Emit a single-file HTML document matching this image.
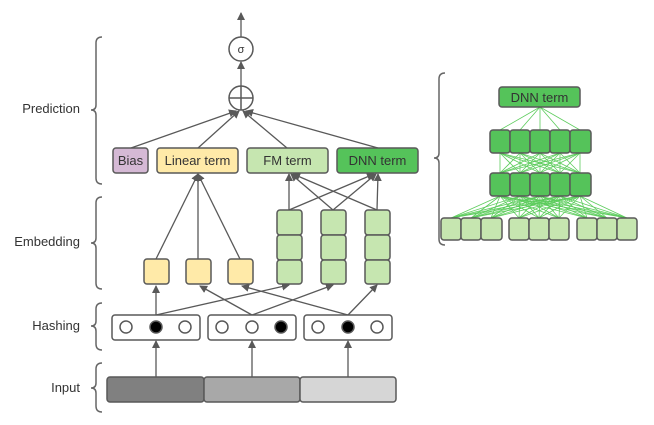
<!DOCTYPE html>
<html><head><meta charset="utf-8"><style>
html,body{margin:0;padding:0;background:#fff;}
svg{display:block;font-family:"Liberation Sans",sans-serif;}
</style></head><body>
<svg width="654" height="425" viewBox="0 0 654 425" xmlns="http://www.w3.org/2000/svg">
<defs>
<marker id="a" markerWidth="8" markerHeight="8" refX="7" refY="4" orient="auto" markerUnits="userSpaceOnUse">
<path d="M0,0 L8,4 L0,8 z" fill="#595959"/></marker>
</defs>
<g fill="none" stroke="#666" stroke-width="1.5">
<path d="M102,37 Q96,37 96,43 L96,105 Q96,110 91,110 Q96,110 96,115 L96,178 Q96,184 102,184"/>
<path d="M102,197 Q96,197 96,203 L96,238 Q96,243 91,243 Q96,243 96,248 L96,283 Q96,289 102,289"/>
<path d="M102,303 Q96,303 96,309 L96,321 Q96,326 91,326 Q96,326 96,331 L96,344 Q96,350 102,350"/>
<path d="M102,363 Q96,363 96,369 L96,383 Q96,388 91,388 Q96,388 96,393 L96,406 Q96,412 102,412"/>
<path d="M445,73 Q439,73 439,79 L439,153 Q439,158 434,158 Q439,158 439,163 L439,239 Q439,245 445,245"/>
</g>
<g font-size="13" fill="#333" text-anchor="end">
<text x="80" y="113">Prediction</text>
<text x="80" y="246">Embedding</text>
<text x="80" y="330">Hashing</text>
<text x="80" y="392">Input</text>
</g>
<!-- arrows -->
<g stroke="#595959" stroke-width="1.3" fill="none" marker-end="url(#a)">
<line x1="241" y1="37" x2="241" y2="13"/>
<line x1="241" y1="86" x2="241" y2="62"/>
<line x1="131" y1="148" x2="236" y2="111"/>
<line x1="198" y1="148" x2="239" y2="111"/>
<line x1="287" y1="148" x2="243" y2="111"/>
<line x1="378" y1="148" x2="246" y2="111"/>
<line x1="156" y1="259" x2="198" y2="174"/>
<line x1="198" y1="259" x2="198" y2="174"/>
<line x1="240" y1="259" x2="198" y2="174"/>
<line x1="289" y1="210" x2="289" y2="174"/>
<line x1="333" y1="210" x2="291" y2="174"/>
<line x1="377" y1="210" x2="293" y2="174"/>
<line x1="289" y1="210" x2="374" y2="174"/>
<line x1="333" y1="210" x2="376" y2="174"/>
<line x1="377" y1="210" x2="378" y2="174"/>
<line x1="156" y1="315" x2="156" y2="286"/>
<line x1="156" y1="315" x2="289" y2="285"/>
<line x1="252" y1="315" x2="200" y2="286"/>
<line x1="252" y1="315" x2="333" y2="285"/>
<line x1="348" y1="315" x2="242" y2="286"/>
<line x1="348" y1="315" x2="377" y2="285"/>
<line x1="156" y1="377" x2="156" y2="341"/>
<line x1="252" y1="377" x2="252" y2="341"/>
<line x1="348" y1="377" x2="348" y2="341"/>
</g>
<!-- circles -->
<g stroke="#595959" stroke-width="1.5" fill="#fff">
<circle cx="241" cy="49" r="12"/>
<circle cx="241" cy="98" r="12"/>
</g>
<path d="M229,98 H253 M241,86 V110" stroke="#595959" stroke-width="1.5"/>
<text x="241" y="53" font-size="11" text-anchor="middle" fill="#333">σ</text>
<!-- term boxes -->
<g stroke="#595959" stroke-width="1.5">
<rect x="113" y="148" width="35" height="25" rx="3" fill="#d5b9d5"/>
<rect x="157" y="148" width="81" height="25" rx="3" fill="#ffeaa8"/>
<rect x="247" y="148" width="81" height="25" rx="3" fill="#c6e6b0"/>
<rect x="337" y="148" width="81" height="25" rx="3" fill="#55c35a"/>
</g>
<g font-size="13" fill="#333" text-anchor="middle">
<text x="130.5" y="165">Bias</text>
<text x="197.5" y="165">Linear term</text>
<text x="287.5" y="165">FM term</text>
<text x="377.5" y="165">DNN term</text>
</g>
<!-- embedding -->
<g stroke="#595959" stroke-width="1.5">
<rect x="144" y="259" width="25" height="25" rx="3" fill="#ffeaa8"/>
<rect x="186" y="259" width="25" height="25" rx="3" fill="#ffeaa8"/>
<rect x="228" y="259" width="25" height="25" rx="3" fill="#ffeaa8"/>
<g fill="#c6e6b0">
<rect x="277" y="210" width="25" height="25" rx="3"/><rect x="277" y="235" width="25" height="25" rx="3"/><rect x="277" y="260" width="25" height="24" rx="3"/>
<rect x="321" y="210" width="25" height="25" rx="3"/><rect x="321" y="235" width="25" height="25" rx="3"/><rect x="321" y="260" width="25" height="24" rx="3"/>
<rect x="365" y="210" width="25" height="25" rx="3"/><rect x="365" y="235" width="25" height="25" rx="3"/><rect x="365" y="260" width="25" height="24" rx="3"/>
</g>
<!-- hashing -->
<g fill="#fff">
<rect x="112" y="315" width="88" height="25" rx="3"/>
<rect x="208" y="315" width="88" height="25" rx="3"/>
<rect x="304" y="315" width="88" height="25" rx="3"/>
<circle cx="126" cy="327" r="6"/><circle cx="185" cy="327" r="6"/>
<circle cx="222" cy="327" r="6"/><circle cx="252" cy="327" r="6"/>
<circle cx="318" cy="327" r="6"/><circle cx="377" cy="327" r="6"/>
</g>
<g fill="#000">
<circle cx="156" cy="327" r="6"/><circle cx="281" cy="327" r="6"/><circle cx="348" cy="327" r="6"/>
</g>
<!-- input -->
<rect x="107" y="377" width="97" height="25" rx="3" fill="#808080"/>
<rect x="204" y="377" width="96" height="25" rx="3" fill="#a8a8a8"/>
<rect x="300" y="377" width="96" height="25" rx="3" fill="#d6d6d6"/>
</g>
<!-- DNN detail lines -->
<g stroke="#5ccc5c" stroke-width="0.8">
<line x1="540" y1="107" x2="500" y2="130"/><line x1="540" y1="107" x2="520" y2="130"/><line x1="540" y1="107" x2="540" y2="130"/><line x1="540" y1="107" x2="560" y2="130"/><line x1="540" y1="107" x2="580" y2="130"/>
<line x1="500" y1="153" x2="500" y2="173"/><line x1="500" y1="153" x2="520" y2="173"/><line x1="500" y1="153" x2="540" y2="173"/><line x1="500" y1="153" x2="560" y2="173"/><line x1="500" y1="153" x2="580" y2="173"/>
<line x1="520" y1="153" x2="500" y2="173"/><line x1="520" y1="153" x2="520" y2="173"/><line x1="520" y1="153" x2="540" y2="173"/><line x1="520" y1="153" x2="560" y2="173"/><line x1="520" y1="153" x2="580" y2="173"/>
<line x1="540" y1="153" x2="500" y2="173"/><line x1="540" y1="153" x2="520" y2="173"/><line x1="540" y1="153" x2="540" y2="173"/><line x1="540" y1="153" x2="560" y2="173"/><line x1="540" y1="153" x2="580" y2="173"/>
<line x1="560" y1="153" x2="500" y2="173"/><line x1="560" y1="153" x2="520" y2="173"/><line x1="560" y1="153" x2="540" y2="173"/><line x1="560" y1="153" x2="560" y2="173"/><line x1="560" y1="153" x2="580" y2="173"/>
<line x1="580" y1="153" x2="500" y2="173"/><line x1="580" y1="153" x2="520" y2="173"/><line x1="580" y1="153" x2="540" y2="173"/><line x1="580" y1="153" x2="560" y2="173"/><line x1="580" y1="153" x2="580" y2="173"/>
<line x1="500" y1="196" x2="451" y2="218"/><line x1="500" y1="196" x2="471" y2="218"/><line x1="500" y1="196" x2="491" y2="218"/><line x1="500" y1="196" x2="519" y2="218"/><line x1="500" y1="196" x2="539" y2="218"/><line x1="500" y1="196" x2="559" y2="218"/><line x1="500" y1="196" x2="587" y2="218"/><line x1="500" y1="196" x2="607" y2="218"/><line x1="500" y1="196" x2="627" y2="218"/>
<line x1="520" y1="196" x2="451" y2="218"/><line x1="520" y1="196" x2="471" y2="218"/><line x1="520" y1="196" x2="491" y2="218"/><line x1="520" y1="196" x2="519" y2="218"/><line x1="520" y1="196" x2="539" y2="218"/><line x1="520" y1="196" x2="559" y2="218"/><line x1="520" y1="196" x2="587" y2="218"/><line x1="520" y1="196" x2="607" y2="218"/><line x1="520" y1="196" x2="627" y2="218"/>
<line x1="540" y1="196" x2="451" y2="218"/><line x1="540" y1="196" x2="471" y2="218"/><line x1="540" y1="196" x2="491" y2="218"/><line x1="540" y1="196" x2="519" y2="218"/><line x1="540" y1="196" x2="539" y2="218"/><line x1="540" y1="196" x2="559" y2="218"/><line x1="540" y1="196" x2="587" y2="218"/><line x1="540" y1="196" x2="607" y2="218"/><line x1="540" y1="196" x2="627" y2="218"/>
<line x1="560" y1="196" x2="451" y2="218"/><line x1="560" y1="196" x2="471" y2="218"/><line x1="560" y1="196" x2="491" y2="218"/><line x1="560" y1="196" x2="519" y2="218"/><line x1="560" y1="196" x2="539" y2="218"/><line x1="560" y1="196" x2="559" y2="218"/><line x1="560" y1="196" x2="587" y2="218"/><line x1="560" y1="196" x2="607" y2="218"/><line x1="560" y1="196" x2="627" y2="218"/>
<line x1="580" y1="196" x2="451" y2="218"/><line x1="580" y1="196" x2="471" y2="218"/><line x1="580" y1="196" x2="491" y2="218"/><line x1="580" y1="196" x2="519" y2="218"/><line x1="580" y1="196" x2="539" y2="218"/><line x1="580" y1="196" x2="559" y2="218"/><line x1="580" y1="196" x2="587" y2="218"/><line x1="580" y1="196" x2="607" y2="218"/><line x1="580" y1="196" x2="627" y2="218"/>
</g>
<g stroke="#595959" stroke-width="1.5">
<rect x="499" y="87" width="81" height="20" rx="3" fill="#55c35a"/>
<g fill="#55c35a">
<rect x="490" y="130" width="20" height="23" rx="3"/><rect x="510" y="130" width="20" height="23" rx="3"/><rect x="530" y="130" width="20" height="23" rx="3"/><rect x="550" y="130" width="20" height="23" rx="3"/><rect x="570" y="130" width="21" height="23" rx="3"/>
<rect x="490" y="173" width="20" height="23" rx="3"/><rect x="510" y="173" width="20" height="23" rx="3"/><rect x="530" y="173" width="20" height="23" rx="3"/><rect x="550" y="173" width="20" height="23" rx="3"/><rect x="570" y="173" width="21" height="23" rx="3"/>
</g>
<g fill="#c6e6b0">
<rect x="441" y="218" width="20" height="22" rx="3"/><rect x="461" y="218" width="20" height="22" rx="3"/><rect x="481" y="218" width="21" height="22" rx="3"/>
<rect x="509" y="218" width="20" height="22" rx="3"/><rect x="529" y="218" width="20" height="22" rx="3"/><rect x="549" y="218" width="20" height="22" rx="3"/>
<rect x="577" y="218" width="20" height="22" rx="3"/><rect x="597" y="218" width="20" height="22" rx="3"/><rect x="617" y="218" width="20" height="22" rx="3"/>
</g>
</g>
<text x="539.5" y="102" font-size="13" fill="#333" text-anchor="middle">DNN term</text>
</svg>
</body></html>
